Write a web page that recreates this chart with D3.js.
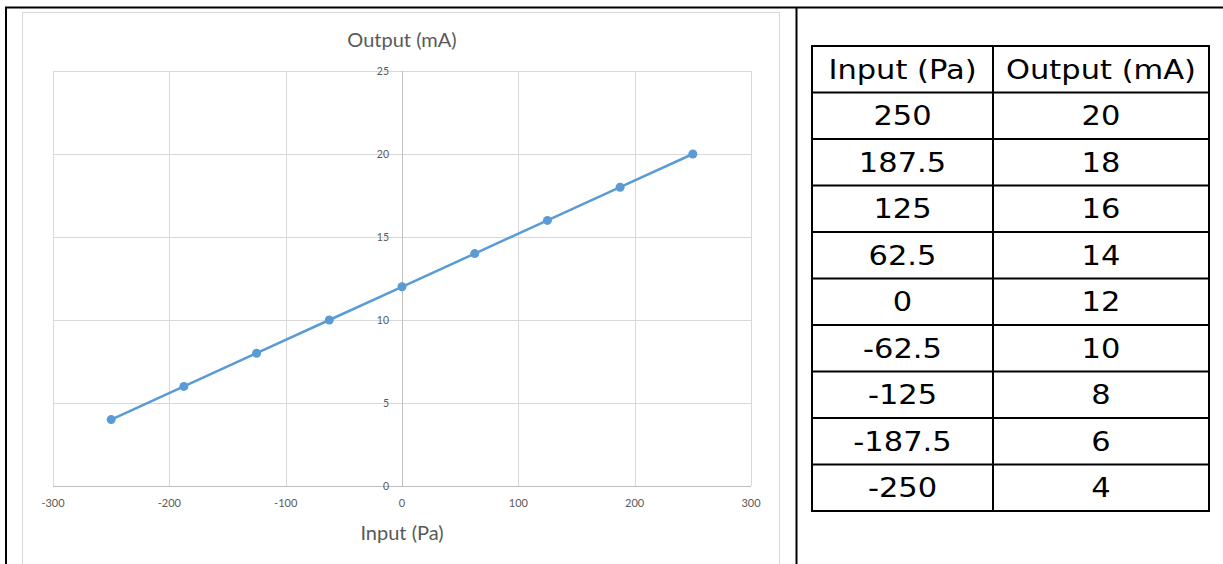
<!DOCTYPE html>
<html>
<head>
<meta charset="utf-8">
<script src="https://cdn.jsdelivr.net/npm/d3@7"></script>
<style>
  body { margin: 0; background: #fff; }
  svg { display: block; }
</style>
</head>
<body>
<div id="chart"></div>
<script>
// data
const inputs = [250, 187.5, 125, 62.5, 0, -62.5, -125, -187.5, -250];
const outputs = [20, 18, 16, 14, 12, 10, 8, 6, 4];
const inputLabels = ["250", "187.5", "125", "62.5", "0", "-62.5", "-125", "-187.5", "-250"];
const headers = ["Input (Pa)", "Output (mA)"];
const xTicks = [-300, -200, -100, 0, 100, 200, 300];
const yTicks = [0, 5, 10, 15, 20, 25];

const W = 1223, H = 564;
const svg = d3.select("#chart").append("svg")
    .attr("width", W)
    .attr("height", H);

// outer frame
svg.append("line").attr("x1", 5).attr("x2", W).attr("y1", 7.5).attr("y2", 7.5)
    .attr("stroke", "#000").attr("stroke-width", 2);
svg.append("line").attr("x1", 6).attr("x2", 6).attr("y1", 7).attr("y2", H)
    .attr("stroke", "#000").attr("stroke-width", 2);
svg.append("line").attr("x1", 796.5).attr("x2", 796.5).attr("y1", 7).attr("y2", H)
    .attr("stroke", "#000").attr("stroke-width", 2);

// chart area border
svg.append("rect")
    .attr("x", 22.5).attr("y", 12.5)
    .attr("width", 757).attr("height", 600)
    .attr("fill", "#fff")
    .attr("stroke", "#d9d9d9");

// scales
const x = d3.scaleLinear().domain([-300, 300]).range([53, 751]);
const y = d3.scaleLinear().domain([0, 25]).range([486, 71]);

const chartFont = "Lato, 'Open Sans', sans-serif";
const grey = "#595959";

// gridlines
svg.append("g").selectAll("line").data(xTicks).join("line")
    .attr("x1", d => Math.round(x(d)) + 0.5).attr("x2", d => Math.round(x(d)) + 0.5)
    .attr("y1", y(25)).attr("y2", y(0))
    .attr("stroke", "#d9d9d9");
svg.append("g").selectAll("line").data(yTicks).join("line")
    .attr("x1", x(-300)).attr("x2", x(300))
    .attr("y1", d => Math.round(y(d)) + 0.5).attr("y2", d => Math.round(y(d)) + 0.5)
    .attr("stroke", "#d9d9d9");

// axis lines through zero
svg.append("line")
    .attr("x1", Math.round(x(0)) + 0.5).attr("x2", Math.round(x(0)) + 0.5)
    .attr("y1", y(25)).attr("y2", y(0))
    .attr("stroke", "#bfbfbf");
svg.append("line")
    .attr("x1", x(-300)).attr("x2", x(300))
    .attr("y1", Math.round(y(0)) + 0.5).attr("y2", Math.round(y(0)) + 0.5)
    .attr("stroke", "#bfbfbf");

// y tick labels (sit next to the zero axis)
svg.append("g").selectAll("text").data(yTicks).join("text")
    .attr("x", x(0) - 13)
    .attr("y", d => y(d) + 3.5)
    .attr("text-anchor", "end")
    .style("font-family", chartFont)
    .style("font-size", "10.5px")
    .style("fill", grey)
    .text(d => d);

// x tick labels
svg.append("g").selectAll("text").data(xTicks).join("text")
    .attr("x", d => x(d))
    .attr("y", 507)
    .attr("text-anchor", "middle")
    .style("font-family", chartFont)
    .style("font-size", "11px")
    .style("fill", grey)
    .text(d => d);

// axis titles
svg.append("text")
    .attr("x", x(0)).attr("y", 47)
    .attr("text-anchor", "middle")
    .style("font-family", chartFont)
    .style("font-size", "20px")
    .style("fill", grey)
    .text("Output (mA)");
svg.append("text")
    .attr("x", x(0)).attr("y", 540)
    .attr("text-anchor", "middle")
    .style("font-family", chartFont)
    .style("font-size", "20px")
    .style("fill", grey)
    .text("Input (Pa)");

// line + markers
const pts = inputs.map((d, i) => ({x: d, y: outputs[i]}));
const line = d3.line().x(d => x(d.x)).y(d => y(d.y));
svg.append("path")
    .datum(pts)
    .attr("d", line)
    .attr("fill", "none")
    .attr("stroke", "#5b9bd5")
    .attr("stroke-width", 2.5);
svg.append("g").selectAll("circle").data(pts).join("circle")
    .attr("cx", d => x(d.x))
    .attr("cy", d => y(d.y))
    .attr("r", 4.5)
    .attr("fill", "#5b9bd5");

// table
const tbl = {left: 812, mid: 993, right: 1209, top: 46, rowH: 46.5};
const rows = [headers].concat(inputLabels.map((d, i) => [d, String(outputs[i])]));
const tableFont = "'DejaVu Sans', Verdana, sans-serif";
const colCenters = [(tbl.left + tbl.mid) / 2, (tbl.mid + tbl.right) / 2];

const tg = svg.append("g");
tg.selectAll("line.row").data(d3.range(rows.length + 1)).join("line")
    .attr("class", "row")
    .attr("x1", tbl.left).attr("x2", tbl.right)
    .attr("y1", i => tbl.top + i * tbl.rowH).attr("y2", i => tbl.top + i * tbl.rowH)
    .attr("stroke", "#000").attr("stroke-width", 2);
tg.selectAll("line.col").data([tbl.left, tbl.mid, tbl.right]).join("line")
    .attr("class", "col")
    .attr("x1", d => d).attr("x2", d => d)
    .attr("y1", tbl.top - 1).attr("y2", tbl.top + rows.length * tbl.rowH + 1)
    .attr("stroke", "#000").attr("stroke-width", 2);

// text is a bit wider in the original, stretch horizontally
rows.forEach((r, i) => {
    r.forEach((cell, j) => {
        tg.append("text")
            .attr("transform", `translate(${colCenters[j]}, ${tbl.top + i * tbl.rowH + tbl.rowH / 2 + 9.5}) scale(1.13,1)`)
            .attr("text-anchor", "middle")
            .style("font-family", tableFont)
            .style("font-size", "27px")
            .style("fill", "#000")
            .text(cell);
    });
});
</script>
</body>
</html>
